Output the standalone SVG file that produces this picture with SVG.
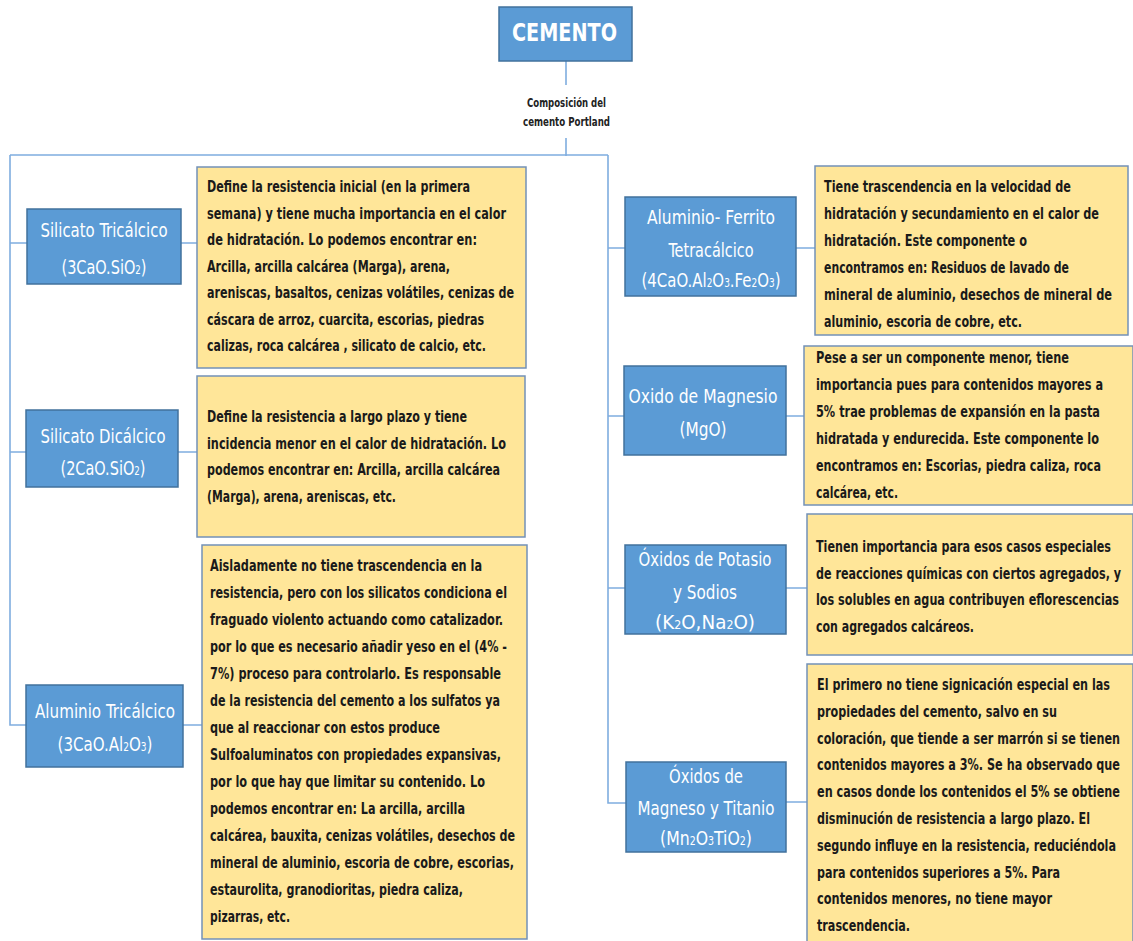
<svg xmlns="http://www.w3.org/2000/svg" width="1133" height="941" viewBox="0 0 1133 941">
<style>
.blue{fill:#5B9BD5;stroke:#41719C;stroke-width:1.5}
.yel{fill:#FFE699;stroke:#7391B8;stroke-width:1.5}
.lbl{font-family:"DejaVu Sans Condensed","Liberation Sans",sans-serif;font-stretch:condensed;font-size:20px;fill:#fff;text-anchor:middle}
.txt{font-family:"DejaVu Sans Condensed","Liberation Sans",sans-serif;font-stretch:condensed;font-size:16.5px;font-weight:bold;fill:#1a1a1a}
.sub{font-size:12px}
.con{fill:none;stroke:#7FADDF;stroke-width:1.6}
</style>
<g id="connectors">
<path class="con" d="M566,61 V85 M566,138 V156 M10,155 H608"/>
<path class="con" d="M10,155 V725 H26 M10,243 H27 M10,452 H26"/>
<path class="con" d="M181,243 H197 M178,452 H197 M183,725 H202"/>
<path class="con" d="M608,155 V803 H626 M608,248 H625 M608,416 H624 M608,588 H625"/>
<path class="con" d="M796,248 H815 M786,416 H804 M786,588 H807 M786,802 H807"/>
</g>
<g id="cemento">
<rect class="blue" x="499" y="7" width="133" height="54"/>
<text x="564.5" y="41" textLength="105" lengthAdjust="spacingAndGlyphs" style="font-family:'DejaVu Sans Condensed','Liberation Sans',sans-serif;font-size:24px;font-weight:bold;fill:#fff;text-anchor:middle">CEMENTO</text>
</g>
<g id="composicion" style="font-family:'DejaVu Sans Condensed','Liberation Sans',sans-serif;font-size:12.5px;font-weight:bold;fill:#222;text-anchor:middle">
<text x="566.5" y="107" textLength="79" lengthAdjust="spacingAndGlyphs">Composición del</text>
<text x="566.5" y="126" textLength="87" lengthAdjust="spacingAndGlyphs">cemento Portland</text>
</g>
<g id="silicato-tricalcico">
<rect class="blue" x="27" y="209" width="154" height="75"/>
<text class="lbl" x="104" y="237" textLength="127" lengthAdjust="spacingAndGlyphs">Silicato Tricálcico</text>
<text class="lbl" x="104" y="274" textLength="85" lengthAdjust="spacingAndGlyphs">(3CaO.SiO<tspan class="sub">2</tspan>)</text>
</g>
<g id="desc-silicato-tricalcico">
<rect class="yel" x="197" y="167" width="329" height="201"/>
<text class="txt" x="207" y="192" textLength="263" lengthAdjust="spacingAndGlyphs">Define la resistencia inicial (en la primera</text>
<text class="txt" x="207" y="218.5" textLength="299" lengthAdjust="spacingAndGlyphs">semana) y tiene mucha importancia en el calor</text>
<text class="txt" x="207" y="245" textLength="270" lengthAdjust="spacingAndGlyphs">de hidratación. Lo podemos encontrar en:</text>
<text class="txt" x="207" y="271.5" textLength="243" lengthAdjust="spacingAndGlyphs">Arcilla, arcilla calcárea (Marga), arena,</text>
<text class="txt" x="207" y="298" textLength="307" lengthAdjust="spacingAndGlyphs">areniscas, basaltos, cenizas volátiles,  cenizas de</text>
<text class="txt" x="207" y="324.5" textLength="277" lengthAdjust="spacingAndGlyphs">cáscara de arroz, cuarcita, escorias,  piedras</text>
<text class="txt" x="207" y="351" textLength="279" lengthAdjust="spacingAndGlyphs">calizas, roca calcárea , silicato de calcio, etc.</text>
</g>
<g id="silicato-dicalcico">
<rect class="blue" x="26" y="410" width="152" height="77"/>
<text class="lbl" x="103" y="443" textLength="125" lengthAdjust="spacingAndGlyphs">Silicato Dicálcico</text>
<text class="lbl" x="103" y="475" textLength="85" lengthAdjust="spacingAndGlyphs">(2CaO.SiO<tspan class="sub">2</tspan>)</text>
</g>
<g id="desc-silicato-dicalcico">
<rect class="yel" x="197" y="376" width="328" height="161"/>
<text class="txt" x="207" y="422" textLength="260" lengthAdjust="spacingAndGlyphs">Define la resistencia a largo plazo y tiene</text>
<text class="txt" x="207" y="448.5" textLength="299" lengthAdjust="spacingAndGlyphs">incidencia menor en el calor de hidratación. Lo</text>
<text class="txt" x="207" y="475" textLength="293" lengthAdjust="spacingAndGlyphs">podemos encontrar en: Arcilla, arcilla calcárea</text>
<text class="txt" x="207" y="501.5" textLength="189" lengthAdjust="spacingAndGlyphs">(Marga), arena, areniscas, etc.</text>
</g>
<g id="aluminio-tricalcico">
<rect class="blue" x="26" y="685" width="157" height="82"/>
<text class="lbl" x="105" y="718" textLength="140" lengthAdjust="spacingAndGlyphs">Aluminio Tricálcico</text>
<text class="lbl" x="105" y="751" textLength="95" lengthAdjust="spacingAndGlyphs">(3CaO.Al<tspan class="sub">2</tspan>O<tspan class="sub">3</tspan>)</text>
</g>
<g id="desc-aluminio-tricalcico">
<rect class="yel" x="202" y="545" width="325" height="394"/>
<text class="txt" x="210" y="571" textLength="272" lengthAdjust="spacingAndGlyphs">Aisladamente no tiene trascendencia en la</text>
<text class="txt" x="210" y="598" textLength="297" lengthAdjust="spacingAndGlyphs">resistencia, pero con los silicatos condiciona el</text>
<text class="txt" x="210" y="625" textLength="293" lengthAdjust="spacingAndGlyphs">fraguado violento actuando como catalizador.</text>
<text class="txt" x="210" y="652" textLength="297" lengthAdjust="spacingAndGlyphs">por lo que es necesario añadir yeso en el (4% -</text>
<text class="txt" x="210" y="679" textLength="291" lengthAdjust="spacingAndGlyphs">7%) proceso para controlarlo.  Es responsable</text>
<text class="txt" x="210" y="706" textLength="290" lengthAdjust="spacingAndGlyphs">de la resistencia del cemento a los sulfatos ya</text>
<text class="txt" x="210" y="733" textLength="230" lengthAdjust="spacingAndGlyphs">que al reaccionar con estos produce</text>
<text class="txt" x="210" y="760" textLength="291" lengthAdjust="spacingAndGlyphs">Sulfoaluminatos con propiedades expansivas,</text>
<text class="txt" x="210" y="787" textLength="275" lengthAdjust="spacingAndGlyphs">por lo que hay que limitar su contenido. Lo</text>
<text class="txt" x="210" y="814" textLength="255" lengthAdjust="spacingAndGlyphs">podemos encontrar en: La arcilla, arcilla</text>
<text class="txt" x="210" y="841" textLength="305" lengthAdjust="spacingAndGlyphs">calcárea, bauxita, cenizas volátiles, desechos de</text>
<text class="txt" x="210" y="868" textLength="304" lengthAdjust="spacingAndGlyphs">mineral de aluminio, escoria de cobre, escorias,</text>
<text class="txt" x="210" y="895" textLength="253" lengthAdjust="spacingAndGlyphs">estaurolita, granodioritas, piedra caliza,</text>
<text class="txt" x="210" y="922" textLength="80" lengthAdjust="spacingAndGlyphs">pizarras, etc.</text>
</g>
<g id="aluminio-ferrito">
<rect class="blue" x="625" y="197" width="171" height="99"/>
<text class="lbl" x="711" y="224" textLength="128" lengthAdjust="spacingAndGlyphs">Aluminio- Ferrito</text>
<text class="lbl" x="711" y="257" textLength="85" lengthAdjust="spacingAndGlyphs">Tetracálcico</text>
<text class="lbl" x="711" y="287" textLength="139" lengthAdjust="spacingAndGlyphs">(4CaO.Al<tspan class="sub">2</tspan>O<tspan class="sub">3</tspan>.Fe<tspan class="sub">2</tspan>O<tspan class="sub">3</tspan>)</text>
</g>
<g id="desc-aluminio-ferrito">
<rect class="yel" x="815" y="166" width="313" height="169"/>
<text class="txt" x="824" y="192" textLength="247" lengthAdjust="spacingAndGlyphs">Tiene trascendencia en la velocidad de</text>
<text class="txt" x="824" y="219" textLength="275" lengthAdjust="spacingAndGlyphs">hidratación y secundamiento en el calor de</text>
<text class="txt" x="824" y="246" textLength="203" lengthAdjust="spacingAndGlyphs">hidratación. Este componente o</text>
<text class="txt" x="824" y="273" textLength="245" lengthAdjust="spacingAndGlyphs">encontramos en: Residuos de lavado de</text>
<text class="txt" x="824" y="300" textLength="288" lengthAdjust="spacingAndGlyphs">mineral de aluminio, desechos de mineral de</text>
<text class="txt" x="824" y="327" textLength="198" lengthAdjust="spacingAndGlyphs">aluminio, escoria de cobre, etc.</text>
</g>
<g id="oxido-magnesio">
<rect class="blue" x="624" y="366" width="162" height="89"/>
<text class="lbl" x="703" y="403" textLength="149" lengthAdjust="spacingAndGlyphs">Oxido de Magnesio</text>
<text class="lbl" x="703" y="436" textLength="47" lengthAdjust="spacingAndGlyphs">(MgO)</text>
</g>
<g id="desc-oxido-magnesio">
<rect class="yel" x="804" y="346" width="329" height="159"/>
<text class="txt" x="816" y="363" textLength="253" lengthAdjust="spacingAndGlyphs">Pese a ser un componente menor, tiene</text>
<text class="txt" x="816" y="390" textLength="287" lengthAdjust="spacingAndGlyphs">importancia pues para contenidos mayores a</text>
<text class="txt" x="816" y="417" textLength="284" lengthAdjust="spacingAndGlyphs">5% trae problemas de expansión en la pasta</text>
<text class="txt" x="816" y="444" textLength="283" lengthAdjust="spacingAndGlyphs">hidratada y endurecida. Este componente lo</text>
<text class="txt" x="816" y="471" textLength="285" lengthAdjust="spacingAndGlyphs">encontramos en: Escorias, piedra caliza, roca</text>
<text class="txt" x="816" y="498" textLength="82" lengthAdjust="spacingAndGlyphs">calcárea, etc.</text>
</g>
<g id="oxidos-potasio">
<rect class="blue" x="625" y="545" width="161" height="89"/>
<text class="lbl" x="705" y="566" textLength="133" lengthAdjust="spacingAndGlyphs">Óxidos de Potasio</text>
<text class="lbl" x="705" y="599" textLength="64" lengthAdjust="spacingAndGlyphs">y Sodios</text>
<text class="lbl" x="705" y="629" textLength="100" lengthAdjust="spacingAndGlyphs">(K<tspan class="sub">2</tspan>O,Na<tspan class="sub">2</tspan>O)</text>
</g>
<g id="desc-oxidos-potasio">
<rect class="yel" x="807" y="514" width="326" height="141"/>
<text class="txt" x="816" y="552" textLength="295" lengthAdjust="spacingAndGlyphs">Tienen importancia para esos casos especiales</text>
<text class="txt" x="816" y="579" textLength="305" lengthAdjust="spacingAndGlyphs">de reacciones químicas con ciertos agregados, y</text>
<text class="txt" x="816" y="605" textLength="303" lengthAdjust="spacingAndGlyphs">los solubles en agua contribuyen eflorescencias</text>
<text class="txt" x="816" y="632" textLength="158" lengthAdjust="spacingAndGlyphs">con agregados calcáreos.</text>
</g>
<g id="oxidos-magneso-titanio">
<rect class="blue" x="626" y="762" width="160" height="90"/>
<text class="lbl" x="706" y="783" textLength="74" lengthAdjust="spacingAndGlyphs">Óxidos de</text>
<text class="lbl" x="706" y="815" textLength="137" lengthAdjust="spacingAndGlyphs">Magneso y Titanio</text>
<text class="lbl" x="706" y="845" textLength="92" lengthAdjust="spacingAndGlyphs">(Mn<tspan class="sub">2</tspan>O<tspan class="sub">3</tspan>TiO<tspan class="sub">2</tspan>)</text>
</g>
<g id="desc-oxidos-magneso-titanio">
<rect class="yel" x="807" y="664" width="326" height="280"/>
<text class="txt" x="817" y="690" textLength="293" lengthAdjust="spacingAndGlyphs">El primero no tiene signicación especial en las</text>
<text class="txt" x="817" y="717" textLength="240" lengthAdjust="spacingAndGlyphs">propiedades del cemento, salvo en su</text>
<text class="txt" x="817" y="744" textLength="303" lengthAdjust="spacingAndGlyphs">coloración, que tiende a ser marrón si se tienen</text>
<text class="txt" x="817" y="770" textLength="303" lengthAdjust="spacingAndGlyphs">contenidos mayores a 3%. Se ha observado que</text>
<text class="txt" x="817" y="797" textLength="303" lengthAdjust="spacingAndGlyphs">en casos donde los contenidos el 5% se obtiene</text>
<text class="txt" x="817" y="824" textLength="273" lengthAdjust="spacingAndGlyphs">disminución de resistencia a largo plazo. El</text>
<text class="txt" x="817" y="851" textLength="299" lengthAdjust="spacingAndGlyphs">segundo influye en la resistencia, reduciéndola</text>
<text class="txt" x="817" y="878" textLength="243" lengthAdjust="spacingAndGlyphs">para contenidos superiores a 5%. Para</text>
<text class="txt" x="817" y="904" textLength="235" lengthAdjust="spacingAndGlyphs">contenidos menores, no tiene mayor</text>
<text class="txt" x="817" y="931" textLength="93" lengthAdjust="spacingAndGlyphs">trascendencia.</text>
</g>
</svg>
